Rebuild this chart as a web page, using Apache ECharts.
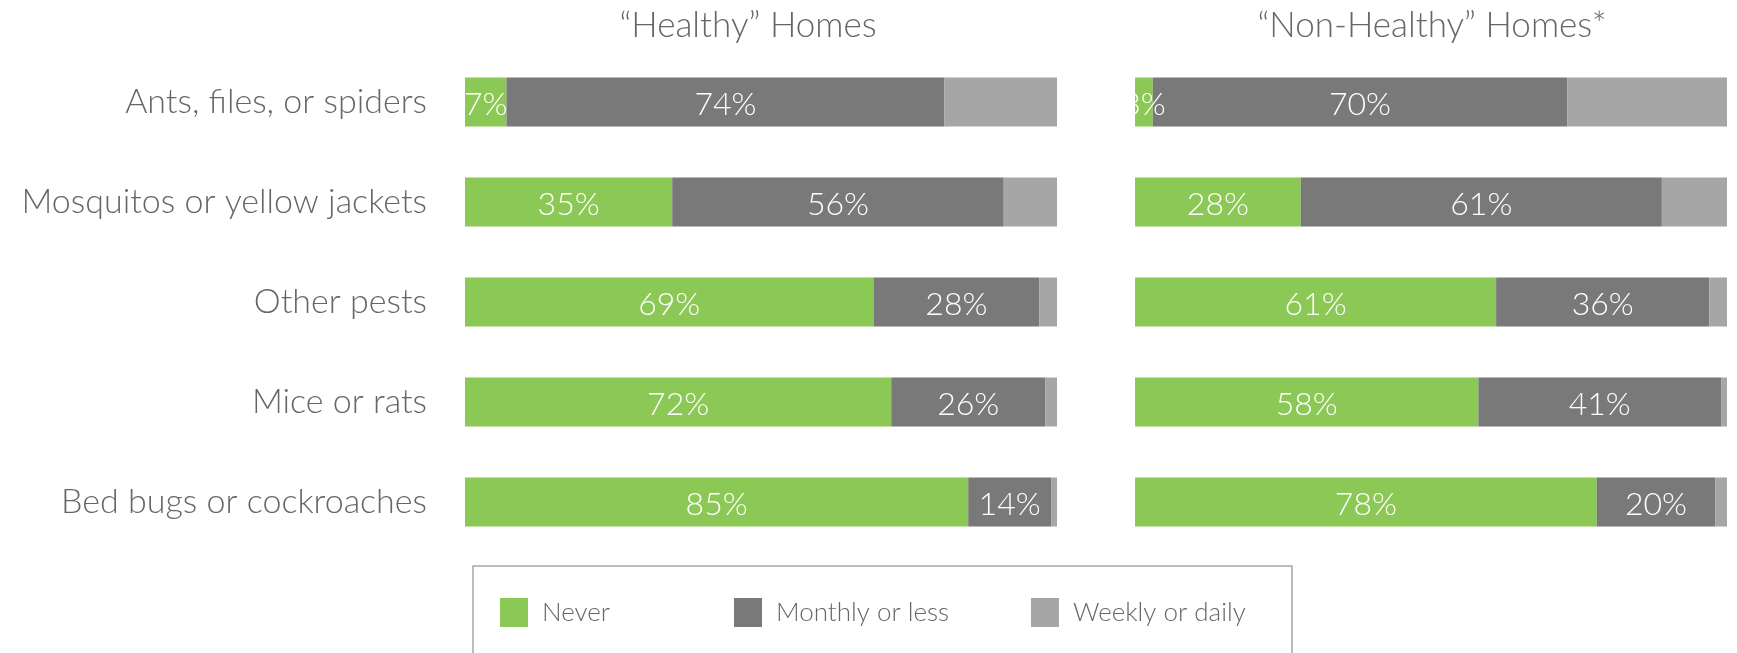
<!DOCTYPE html>
<html>
<head>
    <meta charset="utf-8">
    <title>Pest frequency: Healthy vs Non-Healthy homes</title>
    <script src="https://cdn.jsdelivr.net/npm/echarts@6/dist/echarts.min.js"></script>
    <style>
        html, body { margin: 0; padding: 0; background: #fff; }
        #main { width: 1737px; height: 653px; }
    </style>
</head>
<body>
    <div id="main"></div>
    <script>
        // data (percent of homes)
        const categories = ['Ants, files, or spiders', 'Mosquitos or yellow jackets', 'Other pests', 'Mice or rats', 'Bed bugs or cockroaches'];
        const seriesNames = ['Never', 'Monthly or less', 'Weekly or daily'];
        const panelTitles = ['\u201CHealthy\u201D Homes', '\u201CNon-Healthy\u201D Homes*'];

        const healthyNever = [7, 35, 69, 72, 85];
        const healthyMonthly = [74, 56, 28, 26, 14];
        const healthyWeekly = [19, 9, 3, 2, 1];

        const nonHealthyNever = [3, 28, 61, 58, 78];
        const nonHealthyMonthly = [70, 61, 36, 41, 20];
        const nonHealthyWeekly = [27, 11, 3, 1, 2];

        const colors = ['#8cc855', '#797979', '#a6a6a6'];
        const font = 'Lato, "Noto Sans", sans-serif';
        const textGray = '#666666';

        var myChart = echarts.init(document.getElementById('main'));

        function makeSeries(name, data, idx, colorIdx, withLabel) {
            return {
                name: name,
                type: 'bar',
                stack: 'g' + idx,
                xAxisIndex: idx,
                yAxisIndex: idx,
                data: data,
                barWidth: 49,
                itemStyle: { color: colors[colorIdx] },
                label: {
                    show: withLabel,
                    position: 'inside',
                    offset: [0, 3],
                    color: '#ffffff',
                    fontFamily: font,
                    fontWeight: 300,
                    fontSize: 32,
                    formatter: '{c}%'
                },
                emphasis: { disabled: true }
            };
        }

        const legendLefts = [495, 729, 1026];

        const option = {
            animation: false,
            title: [
                {
                    text: panelTitles[0], left: 743, top: 3, textAlign: 'center',
                    textStyle: { fontFamily: font, fontWeight: 300, fontSize: 35, color: textGray }
                },
                {
                    text: panelTitles[1], left: 1427, top: 3, textAlign: 'center',
                    textStyle: { fontFamily: font, fontWeight: 300, fontSize: 35, color: textGray }
                }
            ],
            grid: [
                { left: 465, width: 592, top: 52, height: 500 },
                { left: 1135, width: 592, top: 52, height: 500 }
            ],
            xAxis: [
                { gridIndex: 0, type: 'value', min: 0, max: 100, show: false },
                { gridIndex: 1, type: 'value', min: 0, max: 100, show: false }
            ],
            yAxis: [
                {
                    gridIndex: 0,
                    type: 'category',
                    inverse: true,
                    data: categories,
                    axisLine: { show: false },
                    axisTick: { show: false },
                    axisLabel: {
                        margin: 38,
                        color: textGray,
                        fontFamily: font,
                        fontWeight: 300,
                        fontSize: 34,
                        padding: [0, 0, 5, 0]
                    }
                },
                {
                    gridIndex: 1,
                    type: 'category',
                    inverse: true,
                    data: categories,
                    show: false
                }
            ],
            legend: seriesNames.map((n, i) => ({
                data: [n],
                left: legendLefts[i],
                top: 593,
                icon: 'rect',
                itemWidth: 28,
                itemHeight: 29,
                selectedMode: false,
                textStyle: {
                    fontFamily: font,
                    fontWeight: 300,
                    fontSize: 26,
                    color: textGray,
                    padding: [0, 0, 0, 9]
                }
            })),
            graphic: [
                {
                    type: 'rect',
                    shape: { x: 473, y: 566, width: 819, height: 120 },
                    style: { fill: 'none', stroke: '#a6a6a6', lineWidth: 1.5 },
                    silent: true
                }
            ],
            series: [
                makeSeries(seriesNames[0], healthyNever, 0, 0, true),
                makeSeries(seriesNames[1], healthyMonthly, 0, 1, true),
                makeSeries(seriesNames[2], healthyWeekly, 0, 2, false),
                makeSeries(seriesNames[0], nonHealthyNever, 1, 0, true),
                makeSeries(seriesNames[1], nonHealthyMonthly, 1, 1, true),
                makeSeries(seriesNames[2], nonHealthyWeekly, 1, 2, false)
            ]
        };

        myChart.setOption(option);
        window.addEventListener('resize', function() {
            myChart.resize();
        });
    </script>
</body>
</html>
